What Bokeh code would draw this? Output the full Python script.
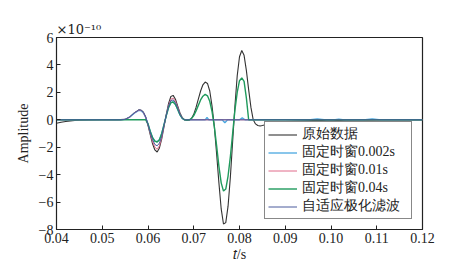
from bokeh.plotting import figure
from bokeh.models import Range1d, FixedTicker, Legend, Title
from bokeh.embed import file_html
from bokeh.resources import INLINE

# ---- data (amplitude in units of 1e-10) ----
t_orig = [0.040, 0.041, 0.042, 0.043, 0.044, 0.045, 0.047, 0.050, 0.053, 0.055,
          0.056, 0.057, 0.058, 0.0585, 0.059, 0.0595, 0.060, 0.0605, 0.061, 0.0615,
          0.062, 0.0625, 0.063, 0.0635, 0.064, 0.0645, 0.065, 0.0655, 0.066, 0.0665,
          0.067, 0.0675, 0.068, 0.0685, 0.069, 0.0695, 0.070, 0.0705, 0.071, 0.0715,
          0.072, 0.0725, 0.073, 0.0735, 0.074, 0.0745, 0.075, 0.0755, 0.076, 0.0765,
          0.077, 0.0775, 0.078, 0.0785, 0.079, 0.0795, 0.080, 0.0805, 0.081, 0.0815,
          0.082, 0.0825, 0.083, 0.0835, 0.084, 0.0845, 0.085, 0.086, 0.087, 0.088,
          0.090, 0.092, 0.095, 0.098, 0.100, 0.105, 0.110, 0.115, 0.120]
y_orig = [-0.25, -0.18, -0.12, -0.08, -0.05, -0.03, -0.01, 0.0, 0.0, 0.03,
          0.2, 0.5, 0.72, 0.7, 0.55, 0.2, -0.4, -1.1, -1.75, -2.2,
          -2.35, -2.05, -1.4, -0.5, 0.4, 1.2, 1.7, 1.78, 1.5, 1.0,
          0.5, 0.15, 0.0, -0.05, -0.03, 0.1, 0.4, 0.9, 1.5, 2.1,
          2.55, 2.75, 2.65, 2.1, 1.0, -0.5, -2.5, -4.6, -6.5, -7.6,
          -7.5, -6.3, -4.2, -1.6, 1.0, 3.2, 4.6, 5.05, 4.7, 3.6,
          2.2, 0.9, 0.0, -0.3, -0.42, -0.45, -0.42, -0.33, -0.26, -0.2,
          -0.13, -0.09, -0.06, -0.05, -0.04, -0.03, -0.02, -0.01, -0.01]

t_short = [0.040, 0.054, 0.055, 0.056, 0.057, 0.058, 0.0585, 0.059, 0.0595,
           0.060, 0.0605, 0.061, 0.0615, 0.062, 0.0625, 0.063, 0.0635, 0.064,
           0.0645, 0.065, 0.0655, 0.066, 0.0665, 0.067, 0.0675, 0.068, 0.069, 0.120]
y_w01 = [0, 0, 0.03, 0.2, 0.5, 0.7, 0.68, 0.52, 0.18,
         -0.38, -1.0, -1.6, -2.0, -2.15, -1.9, -1.3, -0.45, 0.35,
         1.05, 1.5, 1.58, 1.35, 0.9, 0.45, 0.12, 0.0, 0.0, 0.0]
y_adapt = [0, 0, 0.03, 0.2, 0.5, 0.72, 0.7, 0.54, 0.2,
           -0.35, -0.95, -1.45, -1.8, -1.9, -1.7, -1.2, -0.4, 0.35,
           1.0, 1.4, 1.45, 1.25, 0.85, 0.4, 0.1, 0.0, 0.0, 0.0]

t_w002 = [0.040, 0.054, 0.055, 0.056, 0.057, 0.058, 0.0585, 0.059, 0.0595,
          0.060, 0.0605, 0.061, 0.0615, 0.062, 0.0625, 0.063, 0.0635, 0.064,
          0.0645, 0.065, 0.0655, 0.066, 0.0665, 0.067, 0.0675, 0.068, 0.069,
          0.0725, 0.0729, 0.0733, 0.0762, 0.0768, 0.0774, 0.0800, 0.0806, 0.0812,
          0.095, 0.097, 0.099, 0.1005, 0.1017, 0.103, 0.107, 0.109, 0.111, 0.120]
y_w002 = [0, 0, 0.03, 0.2, 0.48, 0.68, 0.66, 0.5, 0.17,
          -0.3, -0.85, -1.3, -1.55, -1.6, -1.45, -1.0, -0.35, 0.3,
          0.9, 1.25, 1.3, 1.12, 0.75, 0.35, 0.1, 0.0, 0.0,
          0.0, 0.18, 0.0, 0.0, -0.22, 0.0, 0.0, 0.14, 0.0,
          0.0, 0.06, 0.0, 0.0, 0.05, 0.0, 0.0, 0.07, 0.0, 0.0]

t_w04 = [0.040, 0.0595, 0.060, 0.0605, 0.061, 0.0615, 0.062, 0.0625, 0.063, 0.0635,
         0.064, 0.0645, 0.065, 0.0655, 0.066, 0.0665, 0.067, 0.0675, 0.068, 0.0685,
         0.069, 0.0695, 0.070, 0.0705, 0.071, 0.0715, 0.072, 0.0725, 0.073, 0.0735,
         0.074, 0.0745, 0.075, 0.0755, 0.076, 0.0765, 0.077, 0.0775, 0.078, 0.0785,
         0.079, 0.0795, 0.080, 0.0805, 0.081, 0.0815, 0.082, 0.120]
y_w04 = [0, 0, -0.3, -0.85, -1.3, -1.55, -1.62, -1.45, -1.0, -0.35,
         0.3, 0.9, 1.25, 1.3, 1.12, 0.75, 0.35, 0.1, 0.0, -0.02,
         0.0, 0.08, 0.3, 0.65, 1.05, 1.45, 1.72, 1.85, 1.75, 1.35,
         0.6, -0.5, -1.9, -3.4, -4.6, -5.2, -5.05, -4.1, -2.7, -1.0,
         0.7, 2.0, 2.85, 3.05, 2.8, 1.6, 0.0, 0.0]

x_ticks = [0.04, 0.05, 0.06, 0.07, 0.08, 0.09, 0.10, 0.11, 0.12]
x_tick_labels = ["0.04", "0.05", "0.06", "0.07", "0.08", "0.09", "0.10", "0.11", "0.12"]
y_ticks = [-8, -6, -4, -2, 0, 2, 4, 6]

names = ["原始数据", "固定时窗0.002s", "固定时窗0.01s", "固定时窗0.04s", "自适应极化滤波"]
x_label = "𝑡/s"
y_label = "Amplitude"
exponent_text = "×10⁻¹⁰"

assert len(t_orig) == len(y_orig)
assert len(t_short) == len(y_w01) == len(y_adapt)
assert len(t_w002) == len(y_w002)
assert len(t_w04) == len(y_w04)

SERIF = "Liberation Serif"
INK = "#222222"

p = figure(width=449, height=271, output_backend="svg", toolbar_location=None,
           x_range=Range1d(0.04, 0.12), y_range=Range1d(-8, 6),
           min_border_left=56, min_border_right=27, min_border_top=37, min_border_bottom=42)
p.background_fill_color = "white"
p.border_fill_color = "white"
p.outline_line_color = INK
p.outline_line_width = 1.2
p.grid.visible = False

r0 = p.line(t_orig, y_orig, line_color="#333333", line_width=1.1)
r1 = p.line(t_w002, y_w002, line_color="#4aa8e0", line_width=1.3)
r2 = p.line(t_short, y_w01, line_color="#e06b8a", line_width=1.0)
r3 = p.line(t_w04, y_w04, line_color="#1f9a5c", line_width=1.4)
r4 = p.line(t_short, y_adapt, line_color="#4a5a9c", line_width=1.0)

p.xaxis.ticker = FixedTicker(ticks=x_ticks)
p.xaxis.major_label_overrides = {t: l for t, l in zip(x_ticks, x_tick_labels)}
p.yaxis.ticker = FixedTicker(ticks=y_ticks)
for ax in (p.xaxis, p.yaxis):
    ax.major_tick_in = 4
    ax.major_tick_out = 0
    ax.minor_tick_in = 0
    ax.minor_tick_out = 0
    ax.axis_line_color = INK
    ax.major_tick_line_color = INK
    ax.major_label_text_font = SERIF
    ax.major_label_text_font_size = "14px"
    ax.major_label_text_color = INK
    ax.major_label_standoff = 3
    ax.axis_label_text_font = SERIF
    ax.axis_label_text_font_style = "normal"
    ax.axis_label_text_font_size = "14px"
    ax.axis_label_text_color = INK
p.yaxis.axis_label = y_label
p.yaxis.axis_label_standoff = 5
p.xaxis.axis_label = x_label
p.xaxis.axis_label_standoff = 1

p.add_layout(Title(text=exponent_text, align="left", text_font="DejaVu Serif",
                   text_font_size="13px", text_font_style="normal",
                   text_color=INK, standoff=1, offset=0), "above")

legend = Legend(items=[(n, [r]) for n, r in zip(names, [r0, r1, r2, r3, r4])],
                location="bottom_right")
legend.label_text_font = SERIF
legend.label_text_font_size = "14px"
legend.label_text_color = INK
legend.label_height = 15
legend.glyph_height = 15
legend.glyph_width = 29
legend.label_width = 106
legend.label_standoff = 5
legend.spacing = 0
legend.padding = 3
legend.margin = 10
legend.border_line_color = "#111111"
legend.border_line_width = 1.2
legend.background_fill_color = "white"
legend.background_fill_alpha = 1.0
p.add_layout(legend)

open("out.html", "w").write(file_html(p, INLINE))
